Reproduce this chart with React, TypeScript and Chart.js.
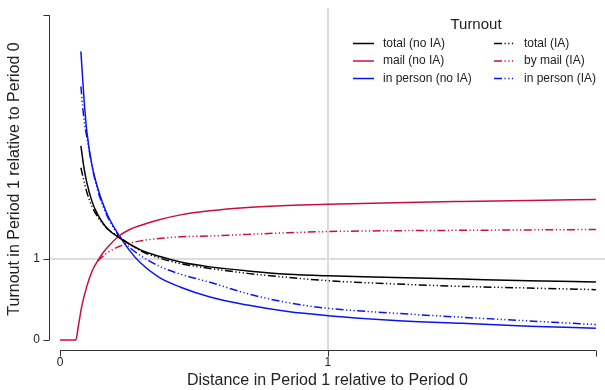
import React, { useEffect, useRef } from 'react';
import { Chart, registerables } from 'chart.js';

Chart.register(...registerables);

// ---- data ----
const distance = [0.078, 0.09, 0.1, 0.12, 0.14, 0.16, 0.18, 0.22, 0.26, 0.3, 0.37, 0.45, 0.56, 0.7, 0.85, 1.0, 1.25, 1.5, 1.75, 2.0];
const totalNoIA = [2.39, 2.11, 1.94, 1.7, 1.55, 1.44, 1.36, 1.26, 1.18, 1.11, 1.03, 0.96, 0.9, 0.85, 0.81, 0.79, 0.77, 0.75, 0.73, 0.715];
const totalIA = [2.12, 1.95, 1.82, 1.64, 1.52, 1.43, 1.36, 1.27, 1.18, 1.1, 1.01, 0.94, 0.88, 0.82, 0.77, 0.73, 0.69, 0.66, 0.64, 0.62];
const inPersonNoIA = [3.55, 2.95, 2.57, 2.14, 1.88, 1.68, 1.52, 1.29, 1.1, 0.95, 0.77, 0.65, 0.53, 0.43, 0.35, 0.3, 0.24, 0.205, 0.17, 0.145];
const inPersonIA = [3.12, 2.7, 2.5, 2.13, 1.85, 1.65, 1.5, 1.28, 1.14, 1.04, 0.91, 0.81, 0.71, 0.57, 0.46, 0.39, 0.33, 0.28, 0.235, 0.19];
const mailDistance = [0, 0.059, 0.068, 0.081, 0.1, 0.12, 0.14, 0.16, 0.18, 0.22, 0.26, 0.3, 0.37, 0.45, 0.56, 0.7, 0.85, 1.0, 1.25, 1.5, 1.75, 2.0];
const mailNoIA = [0, 0, 0.16, 0.41, 0.66, 0.85, 0.97, 1.07, 1.15, 1.28, 1.36, 1.41, 1.48, 1.54, 1.59, 1.63, 1.655, 1.67, 1.69, 1.705, 1.718, 1.728];
const mailIADistance = [0.14, 0.16, 0.18, 0.22, 0.26, 0.3, 0.37, 0.45, 0.56, 0.7, 0.85, 1.0, 1.25, 1.5, 1.75, 2.0];
const mailIA = [0.97, 1.03, 1.08, 1.15, 1.19, 1.22, 1.25, 1.27, 1.28, 1.3, 1.32, 1.335, 1.345, 1.35, 1.355, 1.36];

const xTicks = [0, 1, 2];
const xTickLabels = ['0', '1', ''];
const yTicks = [0, 1, 4];
const yTickLabels = ['0', '1', ''];
const referenceValue = 1;

const legendTitle = 'Turnout';
const labels = ['total (no IA)', 'mail (no IA)', 'in person (no IA)', 'total (IA)', 'by mail (IA)', 'in person (IA)'];

const BLACK = '#000000';
const RED = '#c8103a';
const BLUE = '#0a14f0';
const IA_DASH = [8, 2.5, 1.2, 2.5, 1.2, 2.5, 1.2, 2.5];
const FONT = '"Liberation Sans", Arial, Helvetica, sans-serif';
const TEXT = '#222222';
const AXIS = '#333333';

const pts = (xs: number[], ys: number[]) => xs.map((x, i) => ({ x, y: ys[i] }));

const rAxesPlugin = {
  id: 'rAxes',
  afterDraw(chart: any) {
    const { ctx, chartArea, scales } = chart;
    const x = scales.x;
    const y = scales.y;
    ctx.save();
    ctx.strokeStyle = AXIS;
    ctx.lineWidth = 1;
    // y axis
    const ax = chartArea.left - 0.5;
    ctx.beginPath();
    ctx.moveTo(ax, y.getPixelForValue(yTicks[0]));
    ctx.lineTo(ax, y.getPixelForValue(yTicks[yTicks.length - 1]));
    yTicks.forEach((v) => {
      const py = Math.round(y.getPixelForValue(v)) + 0.5;
      ctx.moveTo(ax - 6, py);
      ctx.lineTo(ax, py);
    });
    ctx.stroke();
    // x axis
    const ay = chartArea.bottom + 0.5;
    ctx.beginPath();
    ctx.moveTo(x.getPixelForValue(xTicks[0]), ay);
    ctx.lineTo(x.getPixelForValue(xTicks[xTicks.length - 1]), ay);
    xTicks.forEach((v) => {
      const px = Math.round(x.getPixelForValue(v)) + 0.5;
      ctx.moveTo(px, ay);
      ctx.lineTo(px, ay + 6);
    });
    ctx.stroke();

    // legend
    ctx.fillStyle = TEXT;
    ctx.textBaseline = 'middle';
    ctx.textAlign = 'center';
    ctx.font = `15px ${FONT}`;
    ctx.fillText(legendTitle, 476, 24.5);
    ctx.font = `12px ${FONT}`;
    ctx.textAlign = 'left';
    const rows = [43.5, 61, 78.5];
    const cols = [
      { s0: 353, s1: 374, t: 383 },
      { s0: 494, s1: 514, t: 524 },
    ];
    chart.data.datasets.forEach((ds: any, i: number) => {
      const col = cols[Math.floor(i / 3)];
      const ry = rows[i % 3];
      ctx.save();
      ctx.strokeStyle = ds.borderColor;
      ctx.lineWidth = ds.borderWidth;
      ctx.setLineDash(ds.borderDash || []);
      ctx.beginPath();
      ctx.moveTo(col.s0, ry);
      ctx.lineTo(col.s1, ry);
      ctx.stroke();
      ctx.restore();
      ctx.fillStyle = TEXT;
      ctx.fillText(ds.label, col.t, ry);
    });
    ctx.restore();
  },
};

export default function App() {
  const ref = useRef<HTMLCanvasElement | null>(null);
  useEffect(() => {
    document.body.style.margin = '0';
    if (!ref.current) return;
    Chart.defaults.font.family = FONT;
    const line = (label: string, data: any[], color: string, dash: number[]) => ({
      label,
      data,
      borderColor: color,
      backgroundColor: color,
      borderWidth: 1.5,
      borderDash: dash,
      pointRadius: 0,
      fill: false,
      cubicInterpolationMode: 'monotone' as const,
    });
    const chart = new Chart(ref.current, {
      type: 'line',
      data: {
        datasets: [
          line(labels[0], pts(distance, totalNoIA), BLACK, []),
          line(labels[1], pts(mailDistance, mailNoIA), RED, []),
          line(labels[2], pts(distance, inPersonNoIA), BLUE, []),
          line(labels[3], pts(distance, totalIA), BLACK, IA_DASH),
          line(labels[4], pts(mailIADistance, mailIA), RED, IA_DASH),
          line(labels[5], pts(distance, inPersonIA), BLUE, IA_DASH),
        ],
      },
      options: {
        responsive: false,
        animation: false,
        events: [],
        layout: { padding: { top: 8, right: 0, left: 0, bottom: 0 } },
        plugins: { legend: { display: false }, tooltip: { enabled: false } },
        scales: {
          x: {
            type: 'linear',
            min: -0.0373,
            max: 2.034,
            afterBuildTicks: (s: any) => {
              s.ticks = xTicks.map((v) => ({ value: v }));
            },
            afterFit: (s: any) => {
              s.height = 40;
              s.paddingLeft = 0;
              s.paddingRight = 0;
            },
            ticks: {
              autoSkip: false,
              maxRotation: 0,
              padding: 5,
              color: TEXT,
              font: { size: 12 },
              callback: (_v: any, i: number) => xTickLabels[i],
            },
            grid: {
              drawTicks: false,
              lineWidth: 2,
              color: (c: any) => (c.tick && c.tick.value === referenceValue ? '#dcdcdc' : 'rgba(0,0,0,0)'),
            },
            border: { display: false },
            title: {
              display: true,
              text: 'Distance in Period 1 relative to Period 0',
              color: TEXT,
              font: { size: 16 },
              padding: { top: 0, bottom: 0 },
            },
          },
          y: {
            type: 'linear',
            min: -0.123,
            max: 4.086,
            afterBuildTicks: (s: any) => {
              s.ticks = yTicks.map((v) => ({ value: v }));
            },
            afterFit: (s: any) => {
              s.width = 50;
              s.paddingTop = 0;
              s.paddingBottom = 0;
            },
            ticks: {
              autoSkip: false,
              padding: 10,
              color: TEXT,
              font: { size: 12 },
              callback: (_v: any, i: number) => yTickLabels[i],
            },
            grid: {
              drawTicks: false,
              lineWidth: 2,
              color: (c: any) => (c.tick && c.tick.value === referenceValue ? '#dcdcdc' : 'rgba(0,0,0,0)'),
            },
            border: { display: false },
            title: {
              display: true,
              text: 'Turnout in Period 1 relative to Period 0',
              color: TEXT,
              font: { size: 16 },
              padding: { top: 5, bottom: 0 },
            },
          },
        },
      },
      plugins: [rAxesPlugin],
    });
    return () => chart.destroy();
  }, []);
  return <canvas ref={ref} width={605} height={390} style={{ display: 'block' }} />;
}
